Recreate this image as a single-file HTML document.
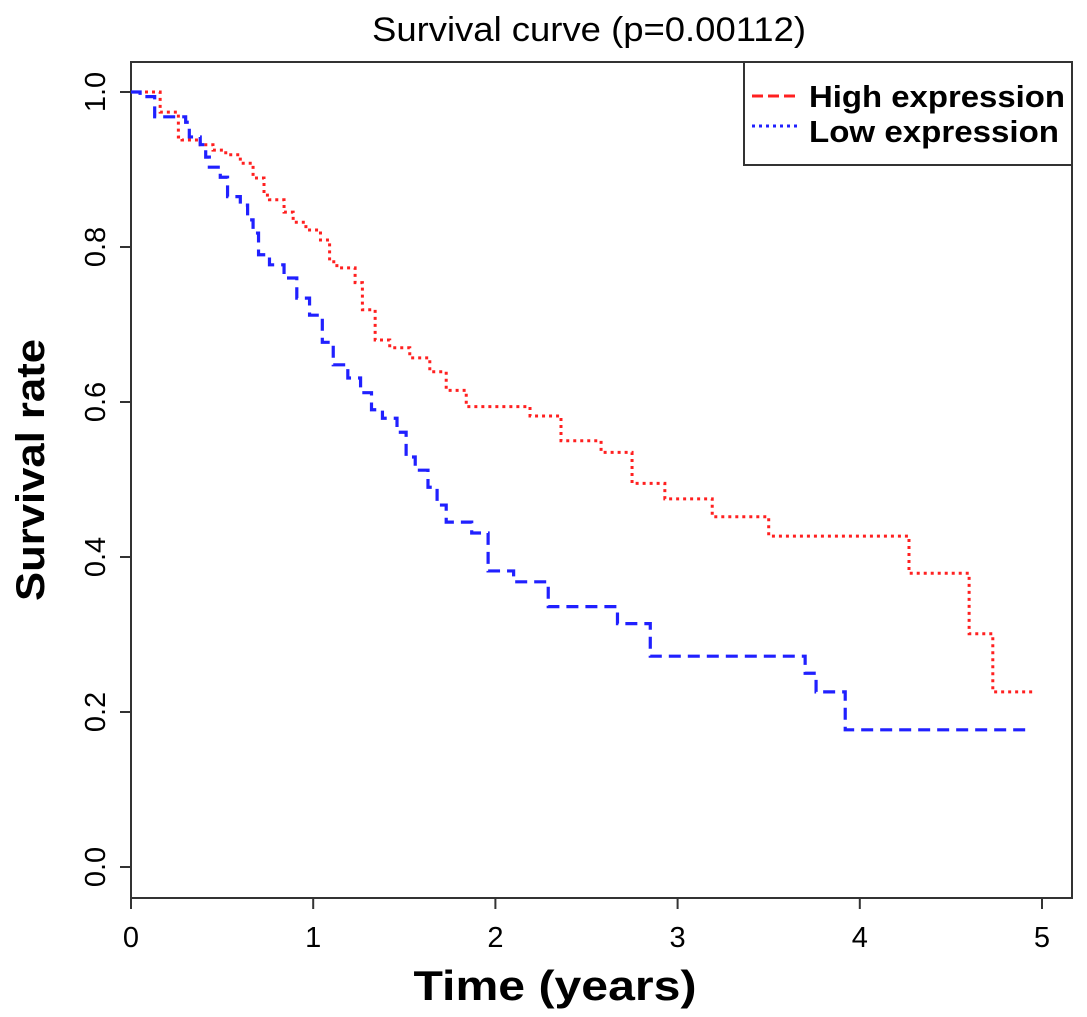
<!DOCTYPE html>
<html><head><meta charset="utf-8"><style>
html,body{margin:0;padding:0;background:#fff;}
svg{display:block;font-family:"Liberation Sans",Arial,sans-serif;}
</style></head><body>
<svg id="chart" width="1087" height="1017" viewBox="0 0 1087 1017">
<text x="589" y="41" font-size="34" text-anchor="middle" textLength="434" lengthAdjust="spacingAndGlyphs" fill="#000">Survival curve (p=0.00112)</text>
<rect x="131" y="62" width="941" height="836" fill="none" stroke="#333" stroke-width="2"/>
<g id="xaxis"></g>
<g id="yaxis"></g>
<text x="555" y="1000" font-size="42" font-weight="bold" text-anchor="middle" textLength="283" lengthAdjust="spacingAndGlyphs">Time (years)</text>
<text transform="translate(44,470) rotate(-90)" font-size="40" font-weight="bold" text-anchor="middle" textLength="262" lengthAdjust="spacingAndGlyphs">Survival rate</text>
<g id="series"></g>
<g>
<rect x="744" y="62" width="328" height="103" fill="#fff" stroke="#333" stroke-width="2"/>
<line x1="752" y1="96" x2="798" y2="96" stroke="#ff2020" stroke-width="3" stroke-dasharray="11 5"/>
<text x="809" y="107" font-size="31" font-weight="bold" textLength="256" lengthAdjust="spacingAndGlyphs">High expression</text>
<line x1="752" y1="126" x2="798" y2="126" stroke="#2020ff" stroke-width="3" stroke-dasharray="3 4"/>
<text x="809" y="142" font-size="31" font-weight="bold" textLength="250" lengthAdjust="spacingAndGlyphs">Low expression</text>
</g>
</svg>
<script>
const xTicks = [0,1,2,3,4,5];
const yTicks = [0.0,0.2,0.4,0.6,0.8,1.0];
const yTickLabels = ["0.0","0.2","0.4","0.6","0.8","1.0"];
const highTimes = [0.16,0.26,0.28,0.38,0.45,0.52,0.60,0.67,0.73,0.76,0.84,0.89,0.96,1.04,1.09,1.13,1.23,1.27,1.34,1.42,1.53,1.64,1.73,1.84,2.19,2.36,2.58,2.75,2.93,3.19,3.50,4.27,4.60,4.73];
const highSurv = [0.974,0.942,0.938,0.932,0.925,0.919,0.908,0.889,0.867,0.861,0.845,0.832,0.822,0.809,0.781,0.773,0.754,0.719,0.680,0.670,0.657,0.639,0.615,0.594,0.582,0.550,0.535,0.495,0.475,0.452,0.427,0.379,0.301,0.226];
const highEnd = 4.96;
const lowTimes = [0.05,0.13,0.30,0.32,0.38,0.41,0.43,0.49,0.53,0.60,0.64,0.67,0.70,0.76,0.84,0.91,0.98,1.05,1.11,1.19,1.26,1.32,1.38,1.46,1.51,1.56,1.63,1.68,1.73,1.87,1.96,2.10,2.29,2.67,2.85,3.70,3.76,3.92];
const lowSurv = [0.994,0.968,0.961,0.942,0.932,0.916,0.903,0.890,0.865,0.854,0.835,0.818,0.790,0.777,0.760,0.734,0.712,0.677,0.648,0.631,0.612,0.590,0.579,0.561,0.529,0.512,0.490,0.467,0.445,0.431,0.382,0.368,0.336,0.314,0.272,0.250,0.226,0.177];
const lowEnd = 4.93;

const NS="http://www.w3.org/2000/svg";
const X0=131, XS=182.2, Y0=867, YS=775;
function xs(t){return X0+t*XS;}
function ys(v){return Y0-v*YS;}
function mk(tag,attrs,parent){const e=document.createElementNS(NS,tag);for(const k in attrs)e.setAttribute(k,attrs[k]);parent.appendChild(e);return e;}

const xa=document.getElementById('xaxis');
xTicks.forEach(t=>{
  const l=mk('line',{x1:xs(t),x2:xs(t),y1:898,y2:909,stroke:'#333','stroke-width':2},xa);
  
  
  const tx=mk('text',{x:xs(t),y:947,'font-size':29,'text-anchor':'middle'},xa);
  tx.textContent=String(t);
  
  
});
const ya=document.getElementById('yaxis');
yTicks.forEach((v,i)=>{
  const l=mk('line',{x1:120,x2:131,y1:ys(v),y2:ys(v),stroke:'#333','stroke-width':2},ya);
  
  
  const tx=mk('text',{transform:`translate(105,${ys(v)}) rotate(-90)`,'font-size':29,'text-anchor':'middle'},ya);
  tx.textContent=yTickLabels[i];
  
  
});
function stepPath(times,surv,end){
  let d=`M${xs(0)},${ys(1)}`;
  for(let i=0;i<times.length;i++){d+=` H${xs(times[i])} V${ys(surv[i])}`;}
  d+=` H${xs(end)}`;
  return d;
}
const sg=document.getElementById('series');
const ph=mk('path',{d:stepPath(highTimes,highSurv,highEnd),fill:'none',stroke:'#ff2020','stroke-width':3,'stroke-dasharray':'3 4'},sg);


const pl=mk('path',{d:stepPath(lowTimes,lowSurv,lowEnd),fill:'none',stroke:'#2020ff','stroke-width':3.2,'stroke-dasharray':'12 7'},sg);


</script>
</body></html>
